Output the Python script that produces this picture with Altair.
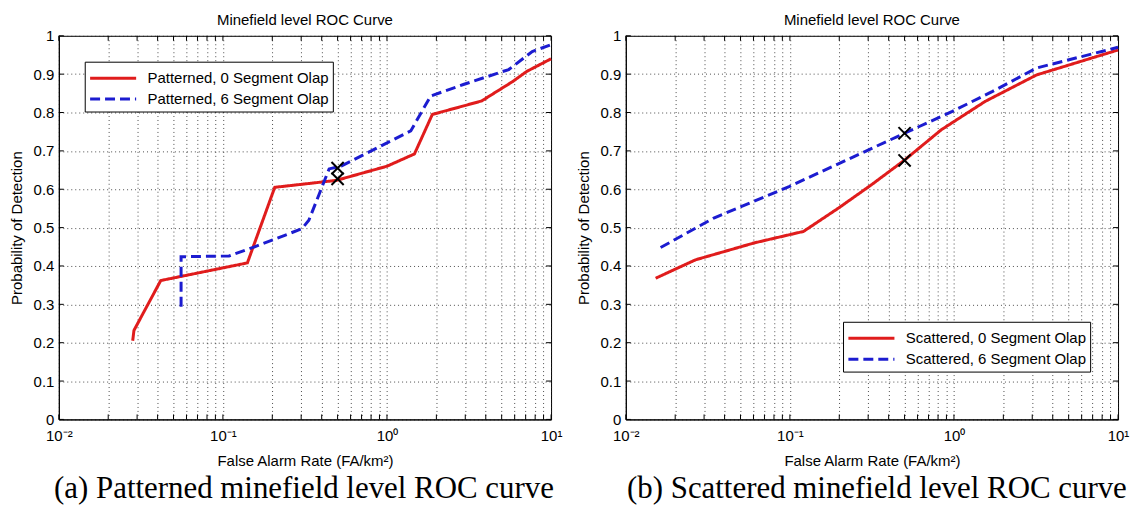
import altair as alt
import pandas as pd

# ---------------- data ----------------
pa_series = ["Patterned, 0 Segment Olap", "Patterned, 6 Segment Olap"]
pa_red_x = [0.0282, 0.0287, 0.0418, 0.141, 0.207, 0.49, 1.0, 1.47, 1.89, 3.77, 5.8, 7.1, 10.0]
pa_red_y = [0.205, 0.232, 0.362, 0.408, 0.605, 0.623, 0.66, 0.692, 0.795, 0.83, 0.88, 0.907, 0.94]
pa_blue_x = [0.0556, 0.0556, 0.109, 0.156, 0.303, 0.334, 0.444, 0.53, 1.396, 1.846, 2.92, 5.52, 7.68, 10.0]
pa_blue_y = [0.294, 0.424, 0.426, 0.45, 0.497, 0.519, 0.653, 0.661, 0.752, 0.843, 0.873, 0.912, 0.959, 0.977]
pa_marker_x = [0.5, 0.5]
pa_marker_y = [0.655, 0.627]

pb_series = ["Scattered, 0 Segment Olap", "Scattered, 6 Segment Olap"]
pb_red_x = [0.0152, 0.0266, 0.0605, 0.121, 0.198, 0.315, 0.5, 0.837, 1.55, 3.19, 10.0]
pb_red_y = [0.368, 0.416, 0.46, 0.49, 0.551, 0.612, 0.676, 0.755, 0.829, 0.898, 0.963]
pb_blue_x = [0.0163, 0.0344, 0.0989, 0.5, 0.977, 1.72, 3.19, 10.0]
pb_blue_y = [0.448, 0.525, 0.607, 0.746, 0.803, 0.855, 0.916, 0.97]
pb_marker_x = [0.5, 0.5]
pb_marker_y = [0.746, 0.675]

x_decades = [0.01, 0.1, 1, 10]
x_decade_labels = ["10⁻²", "10⁻¹", "10⁰", "10¹"]
x_minor = [0.02, 0.03, 0.04, 0.05, 0.06, 0.07, 0.08, 0.09,
           0.2, 0.3, 0.4, 0.5, 0.6, 0.7, 0.8, 0.9,
           2, 3, 4, 5, 6, 7, 8, 9]
y_ticks = [0, 0.1, 0.2, 0.3, 0.4, 0.5, 0.6, 0.7, 0.8, 0.9, 1.0]

panel_title = "Minefield level ROC Curve"
x_title = "False Alarm Rate (FA/km²)"
y_title = "Probability of Detection"
caption_a = "(a) Patterned minefield level ROC curve"
caption_b = "(b) Scattered minefield level ROC curve"

# ---------------- styling ----------------
W, H = 494, 385
RED = "#e01c1c"
BLUE = "#1c1cd0"
FONT = "Liberation Sans"
SERIF = "Liberation Serif"
FS = 15

label_expr = " : ".join(
    f"datum.value == {v} ? '{l}'" for v, l in zip(x_decades, x_decade_labels)
) + " : ''"

X_AXIS = alt.Axis(
    values=x_decades + x_minor, labelExpr=label_expr, title=x_title,
    ticks=False, labelFlush=False, labelOverlap=False,
    labelPadding=9, titlePadding=10,
    grid=True, gridDash=[1, 3], gridColor="#222", gridOpacity=0.8,
    domainColor="black", labelColor="black", titleColor="black",
    labelFont=FONT, labelFontSize=FS, titleFont=FONT, titleFontSize=FS,
    titleFontWeight="normal",
)
Y_AXIS = alt.Axis(
    values=y_ticks, format=".1~f", title=y_title, ticks=False, tickCount=11,
    labelPadding=5, titlePadding=9, labelFlush=False, labelOverlap=False,
    grid=True, gridDash=[1, 3], gridColor="#222", gridOpacity=0.8,
    domainColor="black", labelColor="black", titleColor="black",
    labelFont=FONT, labelFontSize=FS, titleFont=FONT, titleFontSize=FS,
    titleFontWeight="normal",
)
XS = alt.Scale(type="log", domain=[0.01, 10], nice=False)
YS = alt.Scale(domain=[0, 1], nice=False, zero=False)


def X():
    return alt.X("x:Q", scale=XS, axis=X_AXIS, title=x_title)


def Y():
    return alt.Y("y:Q", scale=YS, axis=Y_AXIS, title=y_title)


def panel(series, rx, ry, bx, by, mx, my, leg_x, leg_y, caption, cap_dx):
    rows = []
    for i, (x, y) in enumerate(zip(rx, ry)):
        rows.append({"x": x, "y": y, "series": series[0], "idx": i})
    for i, (x, y) in enumerate(zip(bx, by)):
        rows.append({"x": x, "y": y, "series": series[1], "idx": i})
    lines_df = pd.DataFrame(rows)
    marks_df = pd.DataFrame({"x": mx, "y": my})
    xt_df = pd.DataFrame({"x": x_decades + x_minor})
    yt_df = pd.DataFrame({"y": y_ticks})
    cap_df = pd.DataFrame({"caption": [caption]})

    legend = alt.Legend(
        orient="none", legendX=leg_x, legendY=leg_y, title=None,
        symbolType="M-2.1,0L2.1,0", symbolSize=484, symbolStrokeWidth=3,
        symbolOffset=12, labelOffset=22,
        labelFont=FONT, labelFontSize=FS, labelColor="black", labelLimit=400,
        strokeColor="black", fillColor="white", padding=4, rowPadding=0,
    )

    lines = alt.Chart(lines_df).mark_line(strokeWidth=3).encode(
        x=X(), y=Y(),
        color=alt.Color("series:N", scale=alt.Scale(domain=series, range=[RED, BLUE]), legend=legend),
        strokeDash=alt.StrokeDash("series:N", scale=alt.Scale(domain=series, range=[[1, 0], [10, 5]]), legend=legend),
        order=alt.Order("idx:Q"),
    )

    markers = alt.Chart(marks_df).mark_point(
        shape="M-1,-1L1,1M-1,1L1,-1", size=150, strokeWidth=2,
        stroke="black", filled=False, opacity=1,
    ).encode(x=X(), y=Y())

    tick_bottom = alt.Chart(xt_df).mark_rule(color="black", strokeWidth=1).encode(
        x=X(), y=alt.value(H), y2=alt.value(H - 5))
    tick_top = alt.Chart(xt_df).mark_rule(color="black", strokeWidth=1).encode(
        x=X(), y=alt.value(0), y2=alt.value(5))
    tick_left = alt.Chart(yt_df).mark_rule(color="black", strokeWidth=1).encode(
        y=Y(), x=alt.value(0), x2=alt.value(5))
    tick_right = alt.Chart(yt_df).mark_rule(color="black", strokeWidth=1).encode(
        y=Y(), x=alt.value(W), x2=alt.value(W - 5))

    cap = alt.Chart(cap_df).mark_text(
        font=SERIF, fontSize=31, color="black", align="center", baseline="alphabetic"
    ).encode(text="caption:N", x=alt.value(W / 2 + cap_dx), y=alt.value(H + 79))

    return alt.layer(
        lines, markers, tick_bottom, tick_top, tick_left, tick_right, cap
    ).properties(
        width=W, height=H,
        title=alt.TitleParams(panel_title, font=FONT, fontSize=FS, fontWeight="normal",
                              color="black", anchor="middle", offset=1),
    )


pa = panel(pa_series, pa_red_x, pa_red_y, pa_blue_x, pa_blue_y,
           pa_marker_x, pa_marker_y, 26, 26, caption_a, -1)
pb = panel(pb_series, pb_red_x, pb_red_y, pb_blue_x, pb_blue_y,
           pb_marker_x, pb_marker_y, 218, 287, caption_b, 5)

chart = alt.hconcat(pa, pb, spacing=75, bounds="flush").resolve_scale(
    color="independent", strokeDash="independent"
).properties(
    padding={"left": 0, "top": 3, "right": 0, "bottom": 0}
).configure_view(stroke="black", strokeWidth=1)

chart.save("out.html", embed_options={"renderer": "svg", "actions": False})
